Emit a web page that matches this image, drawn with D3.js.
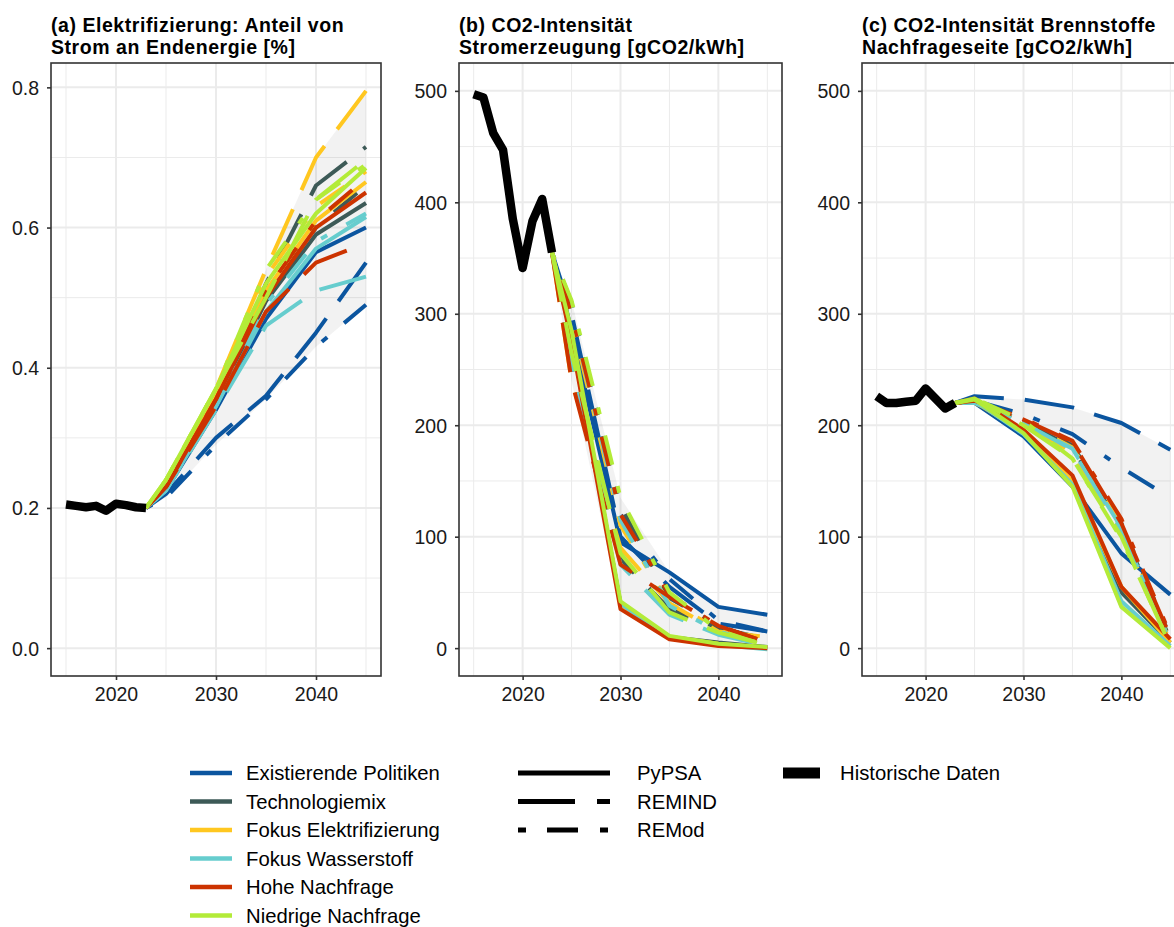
<!DOCTYPE html>
<html>
<head>
<meta charset="utf-8">
<script src="https://cdn.jsdelivr.net/npm/d3@7"></script>
<style>
  body { margin: 0; background: #ffffff; }
  svg { display: block; }
  text { font-family: "Liberation Sans", Arial, Helvetica, sans-serif; }
</style>
</head>
<body>
<svg id="chart" width="1174" height="927"></svg>
<script>
// ---- data -------------------------------------------------------------
const scenarios = ["Existierende Politiken", "Technologiemix", "Fokus Elektrifizierung",
                   "Fokus Wasserstoff", "Hohe Nachfrage", "Niedrige Nachfrage"];
const models = ["PyPSA", "REMIND", "REMod"];
const scenarioYears = [2023, 2025, 2030, 2035, 2040, 2045];
const histYears = [2015, 2016, 2017, 2018, 2019, 2020, 2021, 2022, 2023];
const histLabel = "Historische Daten";

// (a) share of electricity in final energy
const histElec = [0.205, 0.203, 0.201, 0.203, 0.196, 0.206, 0.204, 0.201, 0.200];
const elecPyPSA = [
  [0.20, 0.225, 0.340, 0.470, 0.565, 0.600],
  [0.20, 0.230, 0.350, 0.495, 0.590, 0.635],
  [0.20, 0.235, 0.360, 0.510, 0.610, 0.665],
  [0.20, 0.225, 0.345, 0.480, 0.570, 0.615],
  [0.20, 0.230, 0.355, 0.500, 0.600, 0.650],
  [0.20, 0.240, 0.370, 0.520, 0.620, 0.685]
];
const elecREMIND = [
  [0.20, 0.220, 0.300, 0.360, 0.450, 0.550],
  [0.20, 0.230, 0.350, 0.520, 0.660, 0.715],
  [0.20, 0.235, 0.370, 0.540, 0.700, 0.795],
  [0.20, 0.225, 0.340, 0.460, 0.510, 0.530],
  [0.20, 0.230, 0.345, 0.480, 0.550, 0.578],
  [0.20, 0.240, 0.370, 0.500, 0.640, 0.697]
];
const elecREMod = [
  [0.20, 0.215, 0.290, 0.355, 0.430, 0.490],
  [0.20, 0.230, 0.350, 0.500, 0.600, 0.660],
  [0.20, 0.235, 0.365, 0.530, 0.630, 0.680],
  [0.20, 0.225, 0.345, 0.490, 0.580, 0.620],
  [0.20, 0.230, 0.355, 0.510, 0.610, 0.670],
  [0.20, 0.240, 0.370, 0.540, 0.640, 0.690]
];

// (b) CO2 intensity of power generation [gCO2/kWh]
const histStrom = [497, 494, 462, 447, 385, 341, 383, 403, 355];
const stromPyPSA = [
  [355, 285, 95, 68, 37, 30],
  [355, 280, 40, 10, 5, 1],
  [355, 280, 39, 10, 4, 0],
  [355, 278, 40, 9, 3, -1],
  [355, 275, 35, 8, 2, 0],
  [355, 285, 42, 11, 4, 1]
];
const stromREMIND = [
  [355, 300, 100, 55, 22, 15],
  [355, 255, 80, 35, 18, 8],
  [355, 240, 90, 40, 15, 10],
  [355, 255, 75, 30, 12, 2],
  [355, 240, 75, 46, 20, 5],
  [355, 265, 85, 32, 14, 3]
];
const stromREMod = [
  [355, 310, 120, 62, 25, 15],
  [355, 300, 128, 45, 20, 5],
  [355, 295, 110, 40, 18, 5],
  [355, 300, 115, 38, 15, 3],
  [355, 300, 120, 48, 20, 5],
  [355, 312, 135, 50, 16, 2]
];

// (c) CO2 intensity of fuels on the demand side [gCO2/kWh]
const histBrenn = [226, 220, 220, 221, 222, 233, 224, 215, 220];
const brennPyPSA = [
  [220, 220, 190, 145, 85, 48],
  [220, 222, 193, 148, 50, 5],
  [220, 221, 194, 150, 55, 5],
  [220, 222, 192, 147, 42, 2],
  [220, 224, 196, 155, 55, 8],
  [220, 223, 193, 145, 37, 0]
];
const brennREMIND = [
  [220, 226, 223, 216, 202, 178],
  [220, 220, 203, 180, 108, 8],
  [220, 220, 201, 176, 104, 6],
  [220, 220, 202, 178, 106, 5],
  [220, 222, 205, 185, 112, 10],
  [220, 224, 200, 170, 100, 2]
];
const brennREMod = [
  [220, 222, 210, 192, 162, 135],
  [220, 220, 204, 182, 112, 10],
  [220, 221, 203, 180, 110, 8],
  [220, 220, 202, 179, 108, 5],
  [220, 222, 206, 186, 116, 12],
  [220, 224, 204, 170, 98, 3]
];

const titlesA = ["(a) Elektrifizierung: Anteil von", "Strom an Endenergie [%]"];
const titlesB = ["(b) CO2-Intensität", "Stromerzeugung [gCO2/kWh]"];
const titlesC = ["(c) CO2-Intensität Brennstoffe", "Nachfrageseite [gCO2/kWh]"];

const xMajorTicks = [2020, 2030, 2040];
const xMinorTicks = [2015, 2025, 2035, 2045];
const shareTicks = [0, 0.2, 0.4, 0.6, 0.8];
const shareMinor = [0.1, 0.3, 0.5, 0.7];
const co2Ticks = [0, 100, 200, 300, 400, 500];
const co2Minor = [50, 150, 250, 350, 450];
const co2Limits = [0, 500];

// ---- styles -------------------------------------------------------------
const scenarioColors = ["#0b559f", "#3d5a57", "#ffc720", "#66cdce", "#cc3300", "#b3eb38"];
const plotDash = { "PyPSA": null, "REMIND": "50,21", "REMod": "7,22,30,22" };
const legendDash = { "PyPSA": null, "REMIND": "57,22", "REMod": "8,21,31,22" };

const svg = d3.select("#chart");
const panelTop = 63, panelBottom = 676;

const panels = [
  { left: 51, right: 381, titles: titlesA, ticks: shareTicks, minor: shareMinor,
    limits: [0, d3.max([elecPyPSA, elecREMIND, elecREMod].flat(2))],
    fmt: d3.format(".1f"), hist: histElec, series: [elecPyPSA, elecREMIND, elecREMod] },
  { left: 459, right: 782, titles: titlesB, ticks: co2Ticks, minor: co2Minor,
    limits: co2Limits, fmt: d3.format("d"), hist: histStrom,
    series: [stromPyPSA, stromREMIND, stromREMod] },
  { left: 862, right: 1185, titles: titlesC, ticks: co2Ticks, minor: co2Minor,
    limits: co2Limits, fmt: d3.format("d"), hist: histBrenn,
    series: [brennPyPSA, brennREMIND, brennREMod] }
];

panels.forEach((p, pi) => {
  const span = p.limits[1] - p.limits[0];
  const x = d3.scaleLinear().domain([2015 - 1.5, 2045 + 1.5]).range([p.left, p.right]);
  const y = d3.scaleLinear()
    .domain([p.limits[0] - 0.05 * span, p.limits[1] + 0.05 * span])
    .range([panelBottom, panelTop]);

  const g = svg.append("g");
  const clipId = "clip" + pi;
  svg.append("clipPath").attr("id", clipId)
    .append("rect").attr("x", p.left).attr("y", panelTop)
    .attr("width", p.right - p.left).attr("height", panelBottom - panelTop);

  const plot = g.append("g").attr("clip-path", `url(#${clipId})`);

  // grid
  plot.selectAll(".gxm").data(xMinorTicks).join("line")
    .attr("x1", d => x(d)).attr("x2", d => x(d)).attr("y1", panelTop).attr("y2", panelBottom)
    .attr("stroke", "#ebebeb").attr("stroke-width", 1);
  plot.selectAll(".gym").data(p.minor).join("line")
    .attr("y1", d => y(d)).attr("y2", d => y(d)).attr("x1", p.left).attr("x2", p.right)
    .attr("stroke", "#ebebeb").attr("stroke-width", 1);
  plot.selectAll(".gxM").data(xMajorTicks).join("line")
    .attr("x1", d => x(d)).attr("x2", d => x(d)).attr("y1", panelTop).attr("y2", panelBottom)
    .attr("stroke", "#ebebeb").attr("stroke-width", 2);
  plot.selectAll(".gyM").data(p.ticks).join("line")
    .attr("y1", d => y(d)).attr("y2", d => y(d)).attr("x1", p.left).attr("x2", p.right)
    .attr("stroke", "#ebebeb").attr("stroke-width", 2);

  // scenario band: min / max over all model-scenario paths
  const all = p.series.flat();
  const band = scenarioYears.map((yr, i) => ({
    yr, lo: d3.min(all, s => s[i]), hi: d3.max(all, s => s[i])
  }));
  plot.append("path").datum(band)
    .attr("d", d3.area().x(d => x(d.yr)).y0(d => y(d.lo)).y1(d => y(d.hi)))
    .attr("fill", "#000000").attr("fill-opacity", 0.05);

  const line = d3.line().x(d => x(d[0])).y(d => y(d[1]));

  // scenario paths: scenario-major so later scenarios sit on top
  scenarios.forEach((sc, si) => {
    models.forEach((m, mi) => {
      const vals = p.series[mi][si];
      plot.append("path")
        .datum(scenarioYears.map((yr, i) => [yr, vals[i]]))
        .attr("d", line)
        .attr("fill", "none")
        .attr("stroke", scenarioColors[si])
        .attr("stroke-width", 4)
        .attr("stroke-linecap", "butt")
        .attr("stroke-linejoin", "round")
        .attr("stroke-dasharray", plotDash[m]);
    });
  });

  // historical data
  plot.append("path")
    .datum(histYears.map((yr, i) => [yr, p.hist[i]]))
    .attr("d", line)
    .attr("fill", "none").attr("stroke", "#000000")
    .attr("stroke-width", 8.5)
    .attr("stroke-linecap", "butt").attr("stroke-linejoin", "round");

  // panel border
  g.append("rect").attr("x", p.left).attr("y", panelTop)
    .attr("width", p.right - p.left).attr("height", panelBottom - panelTop)
    .attr("fill", "none").attr("stroke", "#333333").attr("stroke-width", 1.6);

  // axes
  const ax = g.append("g").attr("transform", `translate(${p.left},0)`)
    .call(d3.axisLeft(y).tickValues(p.ticks).tickFormat(p.fmt).tickSize(4).tickPadding(8));
  const bx = g.append("g").attr("transform", `translate(0,${panelBottom})`)
    .call(d3.axisBottom(x).tickValues(xMajorTicks).tickFormat(d3.format("d")).tickSize(4).tickPadding(6));
  [ax, bx].forEach(a => {
    a.select(".domain").remove();
    a.selectAll(".tick line").attr("stroke", "#333333").attr("stroke-width", 1.6);
    a.selectAll(".tick text").attr("fill", "#1a1a1a")
      .style("font-size", "19.5px").style("font-family", '"Liberation Sans", Arial, sans-serif');
  });
  ax.selectAll(".tick text").attr("dy", "0.36em");
  bx.selectAll(".tick text").attr("dy", "0.78em");

  // title
  const t = g.append("text").attr("x", p.left).attr("y", 31.5)
    .style("font-size", "19.5px").style("font-weight", "bold")
    .style("letter-spacing", "0.55px").attr("fill", "#000");
  t.append("tspan").attr("x", p.left).attr("dy", 0).text(p.titles[0]);
  t.append("tspan").attr("x", p.left).attr("dy", 22.5).text(p.titles[1]);
});

// ---- legend -------------------------------------------------------------
const lg = svg.append("g");
const rowY = d => 773 + d * 28.5;

scenarios.forEach((sc, i) => {
  lg.append("line").attr("x1", 190).attr("x2", 232).attr("y1", rowY(i)).attr("y2", rowY(i))
    .attr("stroke", scenarioColors[i]).attr("stroke-width", 4.5);
  lg.append("text").attr("x", 246).attr("y", rowY(i)).attr("dy", "0.36em")
    .style("font-size", "20.3px").attr("fill", "#000").text(sc);
});

models.forEach((m, i) => {
  lg.append("line").attr("x1", 518).attr("x2", 610).attr("y1", rowY(i)).attr("y2", rowY(i))
    .attr("stroke", "#000").attr("stroke-width", 5)
    .attr("stroke-dasharray", legendDash[m]);
  lg.append("text").attr("x", 637).attr("y", rowY(i)).attr("dy", "0.36em")
    .style("font-size", "20.3px").attr("fill", "#000").text(m);
});

lg.append("line").attr("x1", 783).attr("x2", 820).attr("y1", rowY(0)).attr("y2", rowY(0))
  .attr("stroke", "#000").attr("stroke-width", 11);
lg.append("text").attr("x", 840).attr("y", rowY(0)).attr("dy", "0.36em")
  .style("font-size", "20.3px").attr("fill", "#000").text(histLabel);
</script>
</body>
</html>
